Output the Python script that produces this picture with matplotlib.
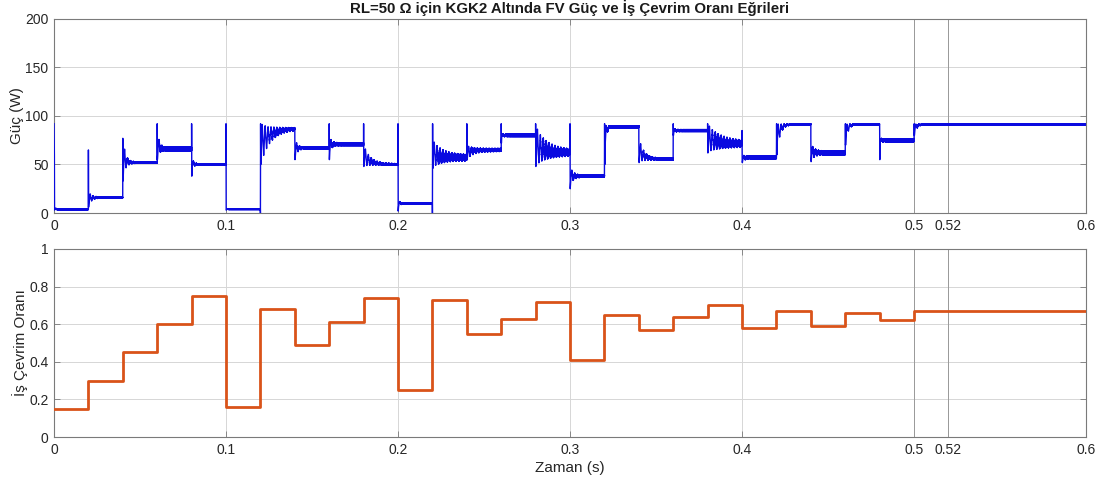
import numpy as np
import matplotlib
matplotlib.use("Agg")
import matplotlib.pyplot as plt

plt.rcParams['font.family'] = ['Liberation Sans', 'DejaVu Sans']

# ---- Duty cycle (one value per 20 ms MPPT step) ----
duty_t = [0.00, 0.02, 0.04, 0.06, 0.08, 0.10, 0.12, 0.14, 0.16, 0.18,
          0.20, 0.22, 0.24, 0.26, 0.28, 0.30, 0.32, 0.34, 0.36, 0.38,
          0.40, 0.42, 0.44, 0.46, 0.48, 0.50, 0.60]
duty_val = [0.15, 0.30, 0.45, 0.60, 0.75, 0.16, 0.68, 0.49, 0.61, 0.74,
            0.25, 0.73, 0.55, 0.63, 0.72, 0.41, 0.65, 0.57, 0.64, 0.70,
            0.58, 0.67, 0.59, 0.66, 0.62, 0.67, 0.67]

# ---- PV power, described per step ----
seg_start = duty_t[:-1]
seg_end = duty_t[1:]
# settled power level of each step (W)
power_level = [4, 16, 52, 66, 50, 4, 87, 67, 71, 50,
               10, 57, 65, 80, 62, 38, 89, 55.5, 85, 71,
               57.5, 91.5, 62, 91.5, 75, 91.5]
# values swept through right at the switching instant (W)
switch_path = [[92, 77, 60], [65, 6], [77, 33], [92, 55], [92, 38],
               [92, 3], [0, 92], [78, 55], [92, 55], [92, 48],
               [92, 2], [0, 92], [92, 55], [92, 72], [92, 48],
               [92, 25], [38, 92], [77, 52], [92, 80], [92, 62],
               [85, 52], [58, 92], [77, 53], [62, 92], [91, 55],
               [75, 92]]
# upper / lower envelope of the ringing after the switch (W)
ring_hi = [6, 22, 77, 85, 58, 5, 92, 77, 80, 70,
           14, 76, 70, 82, 90, 48, 92, 77, 88, 92,
           60, 92, 72, 92, 78, 92]
ring_lo = [3, 8, 35, 57, 45, 3, 50, 56, 60, 48,
           5, 46, 55, 78, 48, 28, 50, 52, 82, 62,
           52, 60, 53, 70, 72, 80]
# decay time of the ringing (ms)
ring_tau_ms = [0.5, 2, 1.5, 1.2, 1, 0.5, 6, 1.5, 1.2, 4,
               1, 6, 4, 1, 7, 2, 0.8, 3, 1, 8,
               1.5, 2, 2, 1.5, 1, 1.5]
# half-width of the switching ripple band (W)
ripple = [0.5, 0.5, 0.8, 2, 0.8, 0.4, 1, 0.8, 1.5, 0.8,
          0.5, 3, 1.5, 1.2, 3, 1, 1, 1, 1, 3,
          1.5, 0.5, 2, 0.5, 1.5, 0.4]

RING_PERIOD = 0.0017
DT = 0.00005


def build_power():
    ts, ps = [], []
    for i in range(len(seg_start)):
        t0, t1 = seg_start[i], seg_end[i]
        path = switch_path[i]
        for k, v in enumerate(path):
            ts.append(t0 + k * 0.0001)
            ps.append(v)
        tr = t0 + len(path) * 0.0001
        t = np.arange(tr, t1, DT)
        d = t - tr
        dec = np.exp(-d / (ring_tau_ms[i] / 1000.0))
        lvl = power_level[i]
        up = lvl + (ring_hi[i] - lvl) * dec
        lo = lvl + (ring_lo[i] - lvl) * dec
        phase = (d / RING_PERIOD) % 1.0
        tri = 1 - np.abs(2 * phase - 1)
        p = lo + (up - lo) * tri
        p = p + ripple[i] * np.where(np.arange(len(t)) % 2 == 0, 1, -1) * (1 - dec)
        ts.extend(t.tolist())
        ps.extend(p.tolist())
    return np.array(ts), np.array(ps)


pv_t, pv_p = build_power()

xticks = [0, 0.1, 0.2, 0.3, 0.4, 0.5, 0.52, 0.6]
xticklabels = ['0', '0.1', '0.2', '0.3', '0.4', '0.5', '0.52', '0.6']

fig = plt.figure(figsize=(11.09, 4.86), dpi=100)
ax1 = fig.add_axes([0.0487, 0.5617, 0.9306, 0.3993])
ax2 = fig.add_axes([0.0487, 0.1008, 0.9306, 0.3869])

TXT = '#262626'
for ax in (ax1, ax2):
    ax.set_xlim(0, 0.6)
    ax.set_xticks(xticks)
    ax.set_xticklabels(xticklabels)
    ax.grid(True, color='#d6d6d6', linewidth=0.7)
    ax.set_axisbelow(True)
    for s in ax.spines.values():
        s.set_color('#7a7a7a')
        s.set_linewidth(0.8)
    ax.tick_params(direction='in', length=4, width=0.6, color='#7a7a7a',
                   top=True, right=True, labelsize=10, labelcolor=TXT, pad=4)
    for xv in (0.5, 0.52):
        ax.axvline(xv, color='#9a9a9a', linewidth=0.7, zorder=1.5)

ax1.plot(pv_t, pv_p, color='#0a0ae0', linewidth=1.0, zorder=3)
ax1.set_ylim(0, 200)
ax1.set_yticks([0, 50, 100, 150, 200])
ax1.set_ylabel('Güç (W)', fontsize=11, color=TXT, labelpad=1)
ax1.set_title('RL=50 Ω için KGK2 Altında FV Güç ve İş Çevrim Oranı Eğrileri',
              fontsize=10.8, fontweight='bold', color='#1a1a1a', pad=4)

ax2.step(duty_t, duty_val, where='post', color='#D95319', linewidth=2.0, zorder=3)
ax2.set_ylim(0, 1)
ax2.set_yticks([0, 0.2, 0.4, 0.6, 0.8, 1])
ax2.set_yticklabels(['0', '0.2', '0.4', '0.6', '0.8', '1'])
ax2.set_ylabel('İş Çevrim Oranı', fontsize=11, color=TXT, labelpad=1)
ax2.set_xlabel('Zaman (s)', fontsize=11, color=TXT, labelpad=3)

fig.savefig('out.png', dpi=100, facecolor='white')
